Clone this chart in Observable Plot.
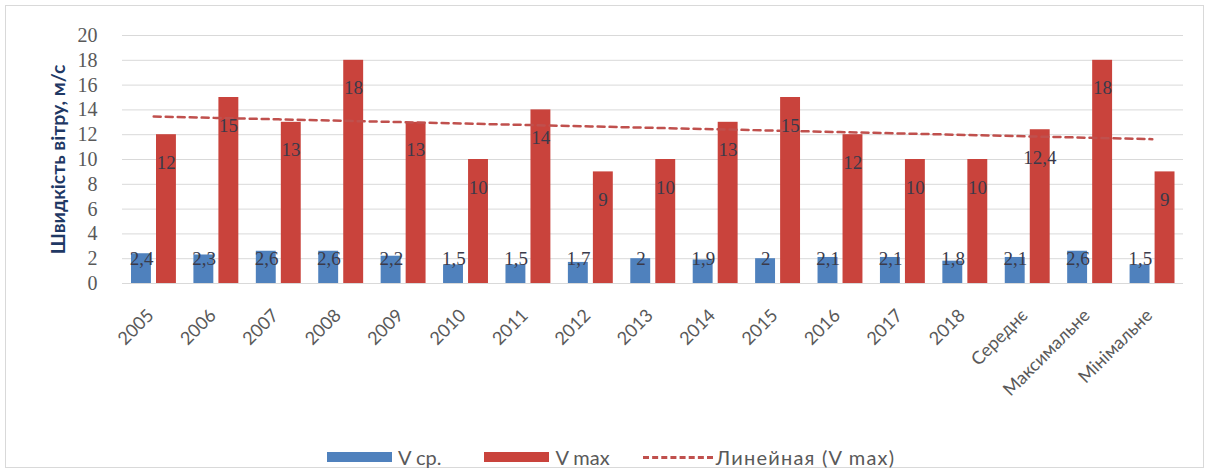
<!DOCTYPE html>
<html><head><meta charset="utf-8">
<script src="https://cdn.jsdelivr.net/npm/d3@7"></script>
<script src="https://cdn.jsdelivr.net/npm/@observablehq/plot@0.6"></script>
<style>
body{margin:0;background:#fff;width:1211px;height:475px;position:relative;overflow:hidden;font-family:Lato,"Open Sans",sans-serif}
#frame{position:absolute;left:5px;top:5px;width:1199px;height:463px;border:1px solid #d9d9d9;box-sizing:border-box}
#chart{position:absolute;left:0;top:0}
#legend{position:absolute;top:446px;left:327px;display:flex;align-items:center;height:22px;font-family:Lato,"Open Sans",sans-serif;font-size:20px;color:#595959;white-space:nowrap}
.sw{width:65px;height:10px;display:inline-block;margin-right:6px}
.item{display:flex;align-items:center}
.dash{width:70px;height:0;border-top:3px dashed #c0504d;margin-right:3px}
</style></head>
<body>
<div id="frame"></div>
<div id="chart"></div>
<div id="legend"></div>
<script>
const categories = ["2005","2006","2007","2008","2009","2010","2011","2012","2013","2014","2015","2016","2017","2018","Середнє","Максимальне","Мінімальне"];
const vAvg = [2.4,2.3,2.6,2.6,2.2,1.5,1.5,1.7,2,1.9,2,2.1,2.1,1.8,2.1,2.6,1.5];
const vMax = [12,15,13,18,13,10,14,9,10,13,15,12,10,10,12.4,18,9];
const yTicks = [0,2,4,6,8,10,12,14,16,18,20];
const seriesNames = ["V ср.","V max","Линейная (V max)"];
const yTitle = "Швидкість вітру, м/с";

const blue = "#4f81bd", red = "#c9433c", trendColor = "#c0504d";
const rows = categories.map((c,i)=>({c, avg:vAvg[i], max:vMax[i], i}));
// linear trend of V max (least squares over category index)
const mx = d3.mean(rows, d=>d.i), my = d3.mean(rows, d=>d.max);
const slope = d3.sum(rows, d=>(d.i-mx)*(d.max-my)) / d3.sum(rows, d=>(d.i-mx)**2);
const trend = rows.map(d=>({c:d.c, t: my + slope*(d.i-mx)}));
const fmt = v => String(v).replace(".", ",");
const serif = "'Liberation Serif', serif";

const plot = Plot.plot({
  width: 1211, height: 420,
  marginLeft: 122, marginRight: 28, marginTop: 35, marginBottom: 137,
  style: {background:"transparent", fontFamily:"Lato, 'Open Sans', sans-serif"},
  x: {domain: categories, padding: 0, round: false, label: null, axis: null},
  y: {domain: [0,20], label: null},
  marks: [
    Plot.gridY(yTicks, {stroke:"#d9d9d9", strokeOpacity:1}),
    Plot.axisY(yTicks, {tickSize:0, tickPadding:25, fontSize:20, fill:"#595959", fontFamily:serif, label:null}),
    Plot.text(categories, {x:d=>d, y:()=>0, text:d=>d, rotate:-45, textAnchor:"end", dx:-3, dy:29, fontSize:18, fill:"#595959"}),
    Plot.barY(rows, {x:"c", y:"avg", fill:blue, insetLeft:9, insetRight:33.5}),
    Plot.barY(rows, {x:"c", y:"max", fill:red, insetLeft:34, insetRight:8.5}),
    Plot.line(trend, {x:"c", y:"t", stroke:trendColor, strokeWidth:2.5, strokeDasharray:"7,5"}),
    Plot.text(rows, {x:"c", y:()=>0, text:d=>fmt(d.avg), dx:-12, dy:-25, fontSize:19, fill:"#3a3a4a", fontFamily:serif}),
    Plot.text(rows, {x:"c", y:"max", text:d=>fmt(d.max), dx:12.5, dy:28, fontSize:19, fill:"#3a3a4a", fontFamily:serif}),
    Plot.text([yTitle], {frameAnchor:"left", textAnchor:"middle", rotate:-90, dx:-64, fontSize:19.5, fontWeight:"bold", fill:"#1f3864"}),
    Plot.ruleY([0], {stroke:"#d9d9d9"})
  ]
});
document.getElementById("chart").appendChild(plot);

const lg = document.getElementById("legend");
lg.innerHTML =
  `<span class="item" style="margin-right:43px"><span class="sw" style="background:${blue}"></span>${seriesNames[0]}</span>` +
  `<span class="item" style="margin-right:33px"><span class="sw" style="background:${red}"></span>${seriesNames[1]}</span>` +
  `<span class="item"><span class="dash"></span><span style="letter-spacing:1.2px">${seriesNames[2]}</span></span>`;
</script>
</body></html>
